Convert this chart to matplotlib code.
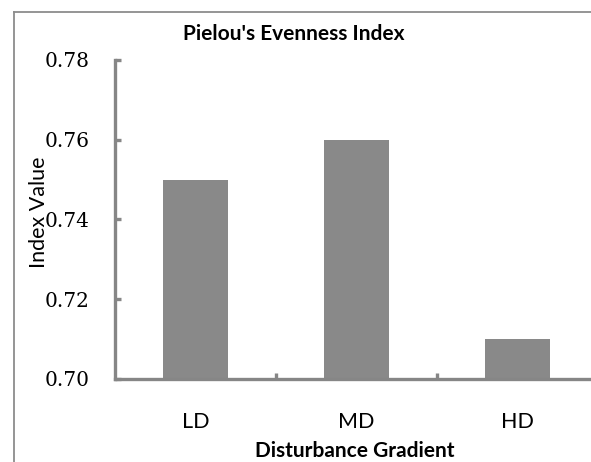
import matplotlib
matplotlib.use("Agg")
import matplotlib.pyplot as plt
from matplotlib.lines import Line2D

categories = ["LD", "MD", "HD"]
values = [0.75, 0.76, 0.71]
y_ticks = [0.70, 0.72, 0.74, 0.76, 0.78]
y_tick_labels = ["0.70", "0.72", "0.74", "0.76", "0.78"]

W, H = 591, 462
fig = plt.figure(figsize=(W / 100, H / 100), dpi=100)
fig.patch.set_facecolor("white")

# chart-area frame (left and top edges)
frame_col = "#8c8c8c"
fig.add_artist(Line2D([14 / W, 14 / W], [0, 1 - 12 / H], transform=fig.transFigure,
                      color=frame_col, lw=1.3))
fig.add_artist(Line2D([14 / W, 1], [1 - 12 / H, 1 - 12 / H], transform=fig.transFigure,
                      color=frame_col, lw=1.3))

left, right, top, bottom = 115, 598, 60, 379
ax = fig.add_axes([left / W, 1 - bottom / H, (right - left) / W, (bottom - top) / H])

x = list(range(len(categories)))
ax.bar(x, values, width=0.40, color="#898989", zorder=2)
ax.set_xlim(-0.5, 2.5)
ax.set_ylim(0.70, 0.78)

axis_col = "#868686"
for s in ["top", "right"]:
    ax.spines[s].set_visible(False)
for s in ["left", "bottom"]:
    ax.spines[s].set_color(axis_col)
    ax.spines[s].set_linewidth(2.4)
    ax.spines[s].set_zorder(3)

ax.set_yticks(y_ticks)
ax.set_yticklabels(y_tick_labels, family="DejaVu Serif", fontsize=14.5)
ax.tick_params(axis="y", direction="in", length=4, width=2.4, color=axis_col, pad=18)

ax.set_xticks(x)
ax.set_xticklabels(categories, family="Lato", fontsize=15.5)
ax.tick_params(axis="x", length=0, pad=24)
ax.set_xticks([0.5, 1.5], minor=True)
ax.tick_params(axis="x", which="minor", direction="in", length=4, width=2.4, color=axis_col)

ax.set_ylabel("Index Value", family="Lato", fontsize=15.5)
ax.yaxis.set_label_coords((49 - left) / (right - left), 0.522)
ax.set_xlabel("Disturbance Gradient", family="Lato", fontsize=15, fontweight="bold")
ax.xaxis.set_label_coords((354.5 - left) / (right - left), (bottom - 441) / (bottom - top))

fig.text(294 / W, 1 - 40 / H, "Pielou's Evenness Index", family="Lato", fontsize=15,
         fontweight="bold", ha="center", va="baseline")

fig.savefig("out.png", dpi=100)
